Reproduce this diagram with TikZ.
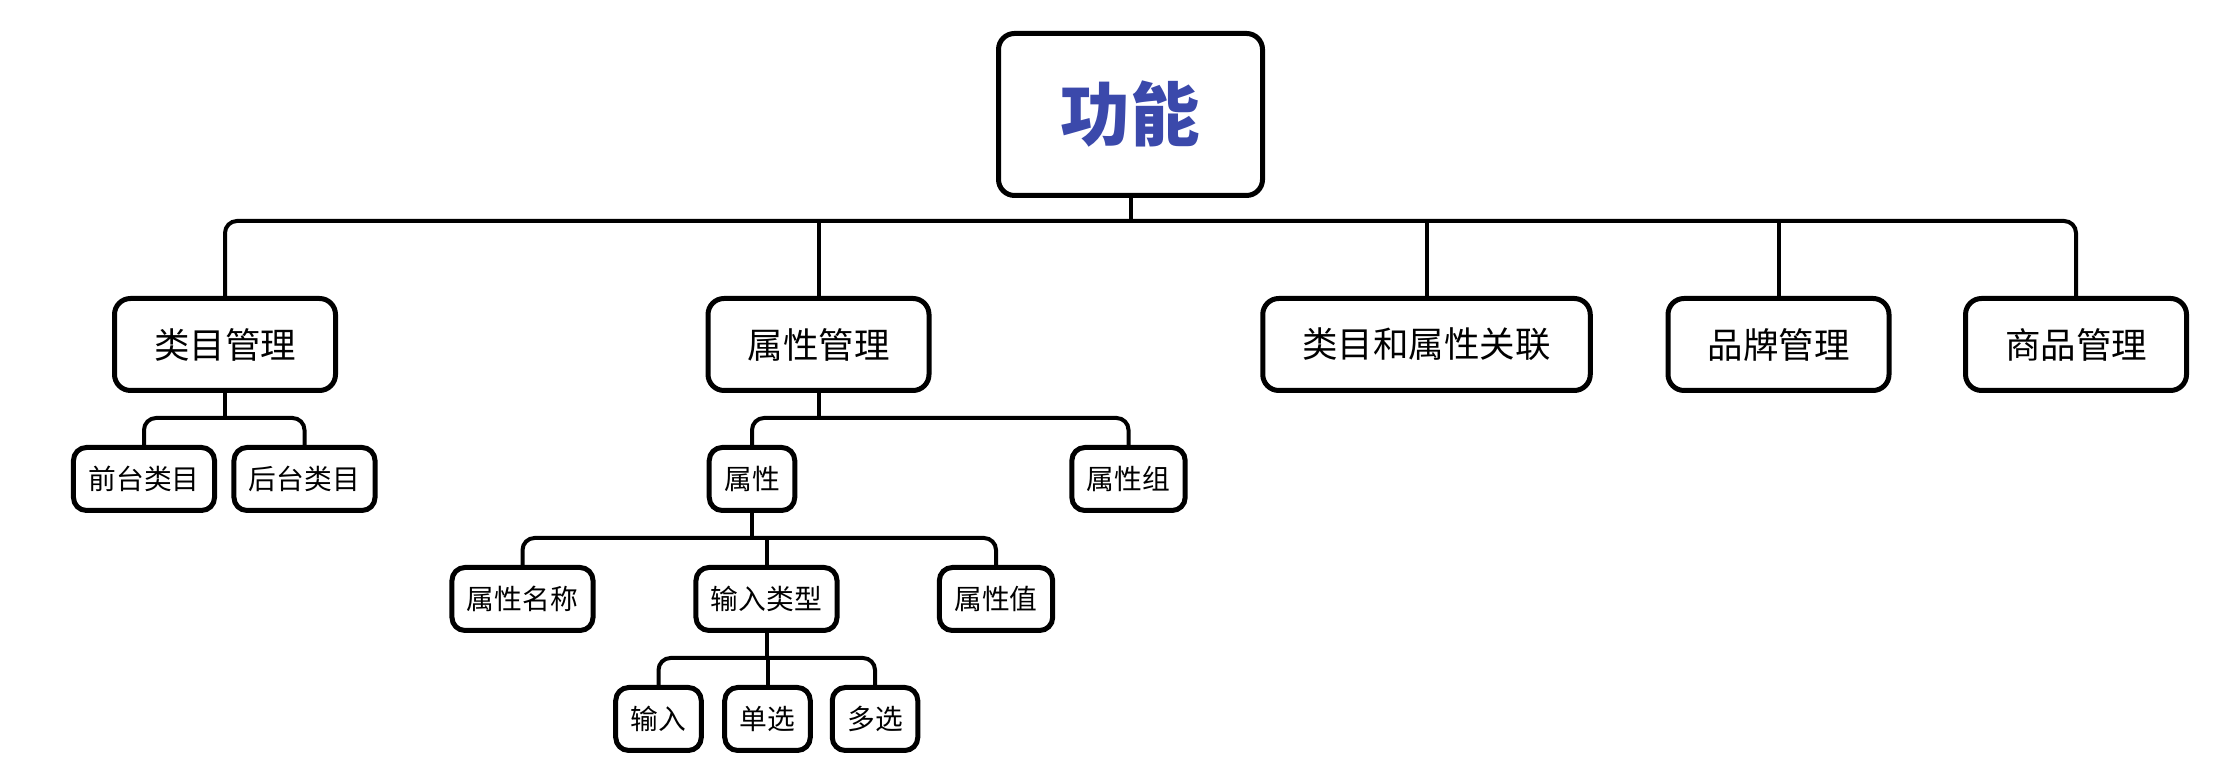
\documentclass[tikz,border=0pt]{standalone}
\usepackage{fontspec}
\setmainfont{Noto Sans CJK SC}
\usepackage{tikz}
\usetikzlibrary{positioning, calc}
\definecolor{titleblue}{RGB}{59,73,171}

\begin{document}
\begin{tikzpicture}[line width=0.04cm,
  big/.style={draw, line width=0.05cm, rounded corners=0.16cm, inner xsep=0.395cm, minimum height=0.92cm, font=\fontsize{10.1pt}{12pt}\selectfont},
  small/.style={draw, line width=0.05cm, rounded corners=0.13cm, inner xsep=0.15cm, minimum height=0.63cm, font=\fontsize{7.9pt}{9pt}\selectfont},
  link/.style={rounded corners=0.12cm}]
\useasboundingbox (0,0) rectangle (22.38,-7.72);
\node[draw, line width=0.05cm, rounded corners=0.16cm, minimum width=2.64cm, minimum height=1.62cm, text=titleblue, font=\fontsize{19.8pt}{22pt}\selectfont\bfseries] (F) at (11.305,-1.145) {功能};
\node[big, below=0.98cm of F.south, xshift=-9.055cm] (Cat) {类目管理};
\node[big, below=0.98cm of F.south, xshift=-3.12cm] (Attr) {属性管理};
\node[big, below=0.98cm of F.south, xshift=2.96cm] (Link) {类目和属性关联};
\node[big, below=0.98cm of F.south, xshift=6.48cm] (Brand) {品牌管理};
\node[big, below=0.98cm of F.south, xshift=9.455cm] (Goods) {商品管理};
\node[small, below=0.52cm of Cat.south, xshift=-0.81cm] (Front) {前台类目};
\node[small, below=0.52cm of Cat.south, xshift=0.795cm] (Back) {后台类目};
\node[small, below=0.52cm of Attr.south, xshift=-0.665cm] (A) {属性};
\node[small, below=0.52cm of Attr.south, xshift=3.10cm] (AGroup) {属性组};
\node[small, below=0.52cm of A.south, xshift=-2.295cm] (AName) {属性名称};
\node[small, below=0.52cm of A.south, xshift=0.145cm] (AType) {输入类型};
\node[small, below=0.52cm of A.south, xshift=2.44cm] (AValue) {属性值};
\node[small, below=0.52cm of AType.south, xshift=-1.08cm] (In) {输入};
\node[small, below=0.52cm of AType.south, xshift=0.01cm] (Single) {单选};
\node[small, below=0.52cm of AType.south, xshift=1.085cm] (Multi) {多选};
\coordinate[below=0.23cm of F.south] (Fb);
\coordinate[below=0.25cm of Cat.south] (Cb);
\coordinate[below=0.25cm of Attr.south] (Sb);
\coordinate[below=0.25cm of A.south] (Ab);
\coordinate[below=0.25cm of AType.south] (Tb);
\draw (F.south) -- (Fb);
\draw[link] (Cat.north) |- (Fb) -| (Goods.north);
\draw (Attr.north) -- (Attr.north |- Fb);
\draw (Link.north) -- (Link.north |- Fb);
\draw (Brand.north) -- (Brand.north |- Fb);
\draw (Cat.south) -- (Cb);
\draw[link] (Front.north) |- (Cb) -| (Back.north);
\draw (Attr.south) -- (Sb);
\draw[link] (A.north) |- (Sb) -| (AGroup.north);
\draw (A.south) -- (Ab);
\draw[link] (AName.north) |- (Ab) -| (AValue.north);
\draw (AType.north) -- (AType.north |- Ab);
\draw (AType.south) -- (Tb);
\draw[link] (In.north) |- (Tb) -| (Multi.north);
\draw (Single.north) -- (Single.north |- Tb);
\end{tikzpicture}
\end{document}
